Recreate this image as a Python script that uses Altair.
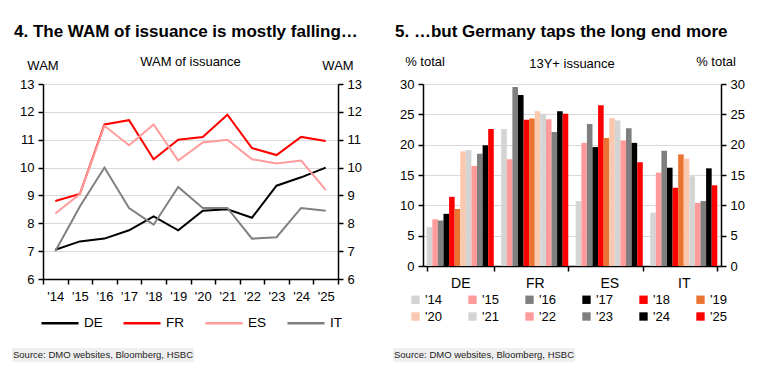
import altair as alt
import pandas as pd

FONT = "Liberation Sans"

# ---------------- data ----------------
years = ["'14", "'15", "'16", "'17", "'18", "'19", "'20", "'21", "'22", "'23", "'24", "'25"]
countries = ["DE", "FR", "ES", "IT"]

de_wam = [7.05, 7.35, 7.45, 7.75, 8.25, 7.75, 8.45, 8.5, 8.2, 9.35, 9.65, 10.0]
fr_wam = [8.8, 9.05, 11.55, 11.7, 10.3, 11.0, 11.1, 11.9, 10.7, 10.45, 11.1, 10.95]
es_wam = [8.35, 9.05, 11.5, 10.8, 11.55, 10.25, 10.9, 11.0, 10.3, 10.15, 10.25, 9.2]
it_wam = [7.0, 8.6, 10.0, 8.55, 7.95, 9.3, 8.55, 8.55, 7.45, 7.5, 8.55, 8.45]

de_13y = [6.4, 7.7, 7.5, 8.6, 11.4, 9.4, 18.9, 19.1, 16.5, 18.5, 19.9, 22.6]
fr_13y = [22.6, 17.6, 29.5, 28.2, 24.1, 24.3, 25.5, 25.1, 24.2, 22.1, 25.5, 25.1]
es_13y = [10.7, 20.3, 23.4, 19.6, 26.5, 21.1, 24.4, 24.0, 20.7, 22.7, 20.3, 17.1]
it_13y = [8.8, 15.4, 19.0, 16.2, 12.9, 18.4, 17.7, 14.8, 10.4, 10.7, 16.1, 13.3]

line_colors = ["#000000", "#FF0000", "#FF9B9B", "#808080"]
year_colors = ["#D4D4D4", "#FF9B9B", "#7F7F7F", "#000000", "#FF0000", "#EB7331",
               "#FAC8AE", "#D4D4D4", "#FF9B9B", "#7F7F7F", "#000000", "#FF0000"]

wam_series = {"DE": de_wam, "FR": fr_wam, "ES": es_wam, "IT": it_wam}
bar_series = {"DE": de_13y, "FR": fr_13y, "ES": es_13y, "IT": it_13y}

df_wam = pd.DataFrame([
    {"country": c, "year": y, "wam": v}
    for c in countries for y, v in zip(years, wam_series[c])
])
df_bar = pd.DataFrame([
    {"market": c, "yr": y, "share": v}
    for c in countries for y, v in zip(years, bar_series[c])
])

W1, H1 = 295, 195
W2, H2 = 298, 182

axis_common = dict(
    labelFont=FONT, labelFontSize=13, labelColor="#000000",
    domainColor="#000000", domainWidth=1.5, tickColor="#000000", tickWidth=1.5,
    tickSize=5, title=None,
)


def txt(text, x, y, size=13, bold=False, align="center"):
    return alt.Chart(pd.DataFrame({"t": [text]})).mark_text(
        font=FONT, fontSize=size, fontWeight="bold" if bold else "normal",
        align=align, baseline="middle", color="#000000",
    ).encode(x=alt.value(x), y=alt.value(y), text="t:N")


def source_box(x, y):
    bg = alt.Chart(pd.DataFrame({"t": [""]})).mark_rect(color="#EFEFEF").encode(
        x=alt.value(x - 1), x2=alt.value(x + 181), y=alt.value(y - 7), y2=alt.value(y + 7)
    )
    t = alt.Chart(pd.DataFrame({"t": ["Source: DMO websites, Bloomberg, HSBC"]})).mark_text(
        font=FONT, fontSize=9.5, align="left", baseline="middle", color="#222222"
    ).encode(x=alt.value(x), y=alt.value(y), text="t:N")
    return bg + t


# ---------------- left chart ----------------
x_year = alt.X(
    "year:N", sort=years,
    scale=alt.Scale(type="band", paddingInner=0, paddingOuter=0),
    axis=alt.Axis(labelAngle=0, tickBand="extent", labelPadding=6, grid=False, **axis_common),
)

lines = alt.Chart(df_wam).mark_line(strokeWidth=2).encode(
    x=x_year,
    y=alt.Y("wam:Q", scale=alt.Scale(domain=[6, 13], nice=False, zero=False),
            axis=alt.Axis(orient="left", values=list(range(6, 14)), grid=True,
                          gridColor="#D9D9D9", gridWidth=1, labelPadding=4, **axis_common)),
    color=alt.Color("country:N", sort=countries,
                    scale=alt.Scale(domain=countries, range=line_colors),
                    legend=alt.Legend(
                        orient="none", legendX=-3, legendY=219, direction="horizontal",
                        columns=4, title=None, symbolType="stroke", symbolSize=1369,
                        symbolStrokeWidth=2.5, labelFont=FONT, labelFontSize=13.5,
                        labelColor="#000000", labelOffset=4, columnPadding=15,
                        gridAlign="all")),
)
lines_r = alt.Chart(df_wam).mark_line(opacity=0).encode(
    x=x_year,
    y=alt.Y("wam:Q", scale=alt.Scale(domain=[6, 13], nice=False, zero=False),
            axis=alt.Axis(orient="right", values=list(range(6, 14)), grid=False,
                          labelPadding=4, **axis_common)),
    detail="country:N",
)

left = alt.layer(
    lines, lines_r,
    txt("4. The WAM of issuance is mostly falling\u2026", -29, -52, size=17, bold=True, align="left"),
    txt("WAM", 0, -18),
    txt("WAM of issuance", W1 / 2, -22),
    txt("WAM", W1, -18),
    source_box(-30, 271),
).resolve_scale(y="independent").properties(width=W1, height=H1)

# ---------------- right chart ----------------
x_mkt = alt.X(
    "market:N", sort=countries,
    scale=alt.Scale(type="band", paddingInner=0.1, paddingOuter=0.05),
    axis=alt.Axis(labelAngle=0, tickBand="extent", labelPadding=5, grid=False,
                  **{**axis_common, "labelFontSize": 14}),
)
xo = alt.XOffset("yr:N", sort=years, scale=alt.Scale(paddingInner=0, paddingOuter=0))

bars = alt.Chart(df_bar).mark_bar().encode(
    x=x_mkt, xOffset=xo,
    y=alt.Y("share:Q", scale=alt.Scale(domain=[0, 30], nice=False),
            axis=alt.Axis(orient="left", values=list(range(0, 31, 5)), grid=True,
                          gridColor="#D9D9D9", gridWidth=1, labelPadding=4, **axis_common)),
    color=alt.Color("yr:N", sort=years,
                    scale=alt.Scale(domain=years, range=year_colors),
                    legend=alt.Legend(
                        orient="none", legendX=-14, legendY=209, direction="horizontal",
                        columns=6, title=None, symbolType="square", symbolSize=70,
                        symbolStrokeWidth=0, labelFont=FONT, labelFontSize=13,
                        labelColor="#000000", labelOffset=3, columnPadding=24,
                        rowPadding=3, gridAlign="all")),
)
bars_r = alt.Chart(df_bar).mark_bar(opacity=0).encode(
    x=x_mkt, xOffset=xo,
    y=alt.Y("share:Q", scale=alt.Scale(domain=[0, 30], nice=False),
            axis=alt.Axis(orient="right", values=list(range(0, 31, 5)), grid=False,
                          labelPadding=4, **axis_common)),
)

right = alt.layer(
    bars, bars_r,
    txt("5. \u2026but Germany taps the long end more", -28, -52, size=17, bold=True, align="left"),
    txt("% total", 2, -22),
    txt("13Y+ issuance", W2 / 2, -20),
    txt("% total", W2 - 5, -22),
    source_box(-29, 271),
).resolve_scale(y="independent").properties(width=W2, height=H2)

chart = alt.hconcat(left, right, spacing=85, bounds="flush").resolve_scale(
    color="independent"
).properties(
    padding={"left": 11, "top": 22, "right": 5, "bottom": 5}
).configure_view(stroke=None).configure(background="#FFFFFF")

chart.save("out.html", embed_options={"renderer": "svg", "actions": False})
